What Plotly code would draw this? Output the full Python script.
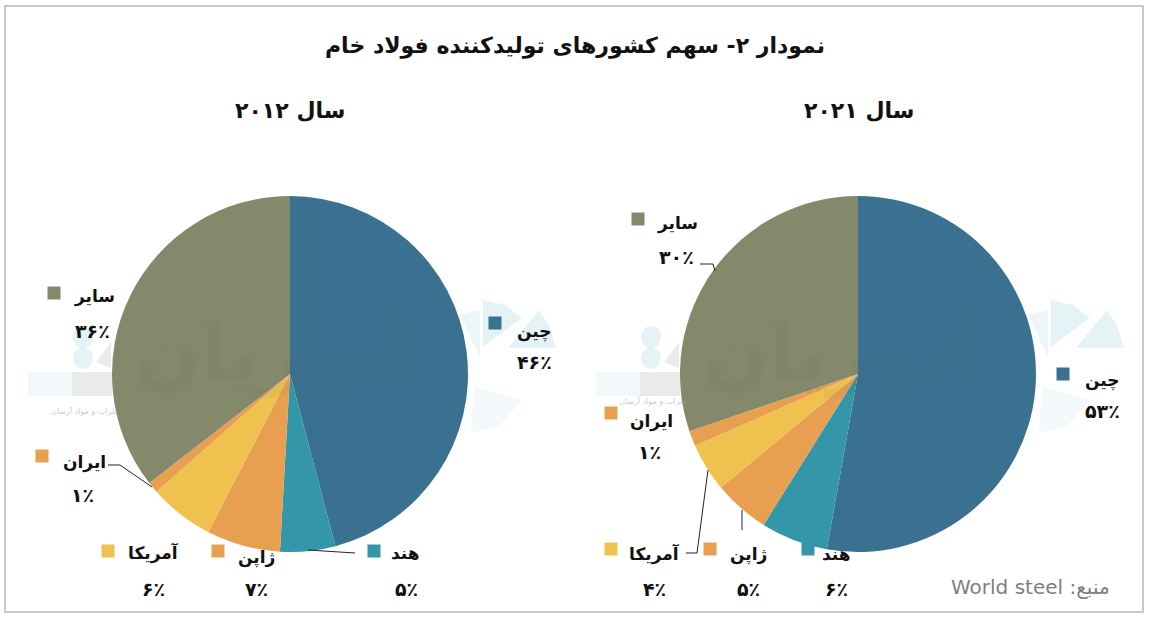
import plotly.graph_objects as go

W = 1149
H = 621

countries = ["چین", "هند", "ژاپن", "آمریکا", "ایران", "سایر"]
colors = ["#3A7190", "#3497A9", "#E99F50", "#EFC24F", "#E99F50", "#84896B"]

values_2012 = [45.9, 5.0, 6.7, 5.9, 1.0, 35.5]
values_2021 = [52.8, 6.1, 5.1, 4.4, 1.4, 30.2]
labels_2012 = ["۴۶٪", "۵٪", "۷٪", "۶٪", "۱٪", "۳۶٪"]
labels_2021 = ["۵۳٪", "۶٪", "۵٪", "۴٪", "۱٪", "۳۰٪"]

title = "نمودار ۲- سهم کشورهای تولیدکننده فولاد خام"
year_2012 = "سال ۲۰۱۲"
year_2021 = "سال ۲۰۲۱"
source = "World steel :منبع"
watermark = "آنوریان"
watermark_small = "فلزات و مواد آرسان"

FONT = "DejaVu Sans"


def px_x(x):
    return x / W


def px_y(y):
    return 1 - y / H


def pie_trace(values, x0):
    # x0 is the left edge of the pie in pixels
    return go.Pie(
        labels=countries,
        values=values,
        sort=False,
        direction="clockwise",
        rotation=0,
        textinfo="none",
        hoverinfo="label+percent",
        marker=dict(colors=colors, line=dict(width=0)),
        domain=dict(x=[px_x(x0), px_x(x0 + 356)], y=[px_y(552), px_y(196)]),
        showlegend=False,
    )


fig = go.Figure([pie_trace(values_2012, 112), pie_trace(values_2021, 680)])

annotations = []
shapes = []


def add_text(x, y, text, size=17, color="#111111", bold=True, opacity=1):
    annotations.append(dict(
        x=px_x(x), y=px_y(y), xref="paper", yref="paper", showarrow=False,
        xanchor="center", yanchor="middle", opacity=opacity,
        text="<b>%s</b>" % text if bold else text,
        font=dict(family=FONT, size=size, color=color),
    ))


def add_line(points):
    for (x0, y0), (x1, y1) in zip(points, points[1:]):
        shapes.append(dict(type="line", xref="paper", yref="paper",
                           x0=px_x(x0), y0=px_y(y0), x1=px_x(x1), y1=px_y(y1),
                           line=dict(color="#222222", width=1)))


def add_key(x, y, color):
    shapes.append(dict(type="rect", xref="paper", yref="paper", line=dict(width=0),
                       x0=px_x(x - 6.5), x1=px_x(x + 6.5), y0=px_y(y - 6.5), y1=px_y(y + 6.5),
                       fillcolor=color))


def add_poly(points, color, opacity):
    path = "M " + " L ".join("%.5f %.5f" % (px_x(x), px_y(y)) for x, y in points) + " Z"
    shapes.append(dict(type="path", xref="paper", yref="paper", path=path, line=dict(width=0),
                       fillcolor=color, opacity=opacity))


def add_watermark(dx, small_y):
    # faint logo that sits on top of both pies
    add_text(272 + dx, 352, watermark, size=78, color="#555555", opacity=0.06)
    add_text(85 + dx, small_y, watermark_small, size=8, color="#999999", bold=False, opacity=0.5)
    for x, y in [(83, 337), (83, 358)]:
        shapes.append(dict(type="circle", xref="paper", yref="paper", line=dict(width=0),
                           x0=px_x(x + dx - 10), x1=px_x(x + dx + 10), y0=px_y(y - 11), y1=px_y(y + 11),
                           fillcolor="#35A0B8", opacity=0.12))
    add_poly([(28 + dx, 372), (72 + dx, 372), (72 + dx, 396), (28 + dx, 396)], "#35A0B8", 0.07)
    add_poly([(72 + dx, 372), (112 + dx, 372), (112 + dx, 396), (72 + dx, 396)], "#555555", 0.12)
    add_poly([(96 + dx, 362), (111 + dx, 342), (111 + dx, 368)], "#555555", 0.12)
    # fan on the right of the logo
    add_poly([(483 + dx, 347), (483 + dx, 300), (505 + dx, 305), (522 + dx, 318)], "#35A0B8", 0.13)
    add_poly([(508 + dx, 348), (539 + dx, 310), (550 + dx, 328), (556 + dx, 348)], "#35A0B8", 0.13)
    add_poly([(460 + dx, 315), (480 + dx, 310), (480 + dx, 357)], "#35A0B8", 0.09)
    add_poly([(474 + dx, 387), (522 + dx, 400), (500 + dx, 425), (471 + dx, 433)], "#35A0B8", 0.06)


add_watermark(0, 411)
# small line moved up here so it clears the Iran label
add_watermark(568, 401)

# frame
shapes.append(dict(type="rect", xref="paper", yref="paper",
                   x0=px_x(5), x1=px_x(1143), y0=px_y(612), y1=px_y(6),
                   line=dict(color="#C9C9C9", width=2)))

add_text(575, 46, title, size=22)
add_text(290, 110, year_2012, size=22)
add_text(859, 110, year_2021, size=22)

# key square x, key y, name x, name y, value x, value y
keys_2012 = [
    (495, 323, 534, 331, 534, 362),
    (374, 551, 405, 553, 407, 589),
    (218, 551, 256, 557, 256, 589),
    (108, 551, 153, 553, 153, 589),
    (42, 456, 84, 462, 82, 495),
    (54, 293, 94, 296, 92, 331),
]
keys_2021 = [
    (1063, 374, 1102, 380, 1102, 411),
    (808, 549, 836, 554, 836, 589),
    (710, 549, 748, 554, 748, 589),
    (611, 549, 654, 554, 654, 589),
    (611, 413, 651, 421, 649, 452),
    (638, 219, 677, 223, 676, 257),
]
for keys, labels in [(keys_2012, labels_2012), (keys_2021, labels_2021)]:
    for i, (kx, ky, nx, ny, vx, vy) in enumerate(keys):
        add_key(kx, ky, colors[i])
        add_text(nx, ny, countries[i])
        add_text(vx, vy, labels[i], size=19)

# leader lines
add_line([(108, 465), (120, 465), (152, 487)])
add_line([(308, 550), (355, 553)])
add_line([(700, 264), (713, 264), (715, 271)])
add_line([(686, 553), (697, 553), (708, 470)])
add_line([(742, 510), (742, 530)])

add_text(1030, 587, source, size=20, color="#7F7F7F", bold=False)

fig.update_layout(
    width=W,
    height=H,
    margin=dict(l=0, r=0, t=0, b=0),
    paper_bgcolor="white",
    annotations=annotations,
    shapes=shapes,
)

fig.write_html("out.html", config=dict(displayModeBar=False),
               post_script="document.body.style.margin='0';")
